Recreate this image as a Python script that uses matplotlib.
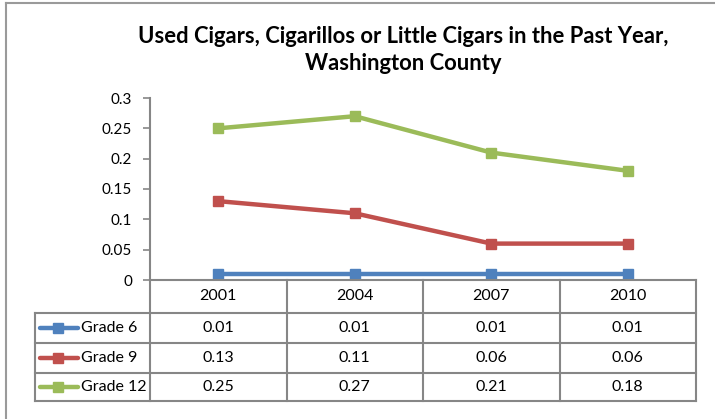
import matplotlib.pyplot as plt
from matplotlib.lines import Line2D

years = ["2001", "2004", "2007", "2010"]
series_names = ["Grade 6", "Grade 9", "Grade 12"]
grade6 = [0.01, 0.01, 0.01, 0.01]
grade9 = [0.13, 0.11, 0.06, 0.06]
grade12 = [0.25, 0.27, 0.21, 0.18]
colors = ["#4F81BD", "#C0504D", "#9BBB59"]
yticks = [0, 0.05, 0.1, 0.15, 0.2, 0.25, 0.3]
ytick_labels = ["0", "0.05", "0.1", "0.15", "0.2", "0.25", "0.3"]

plt.rcParams['font.family'] = ['Lato', 'DejaVu Sans']

W, H = 715, 419
fig = plt.figure(figsize=(W / 100, H / 100), dpi=100)


def fbox(x0, y0, x1, y1):
    # pixel box (top-left origin) -> figure fraction rect
    return [x0 / W, 1 - y1 / H, (x1 - x0) / W, (y1 - y0) / H]


grid_c = "#868686"

# outer chart border (top and left only visible)
fig.add_artist(Line2D([6 / W, 1], [1 - 3 / H, 1 - 3 / H], color="#9a9a9a", lw=1.5))
fig.add_artist(Line2D([6 / W, 6 / W], [0, 1 - 3 / H], color="#9a9a9a", lw=1.5))

fig.text(403 / W, 1 - 50 / H, "Used Cigars, Cigarillos or Little Cigars in the Past Year,\nWashington County",
         ha="center", va="center", fontsize=15.8, fontweight="bold", linespacing=1.4)

# plot area
x0, x1 = 150, 696
ax = fig.add_axes(fbox(x0, 98, x1, 280))
data = [grade6, grade9, grade12]
xs = range(len(years))
for vals, c in zip(data, colors):
    ax.plot(xs, vals, color=c, lw=3.2, marker="s", ms=6.5, solid_capstyle="butt")
ax.set_xlim(-0.5, len(years) - 0.5)
ax.set_ylim(0, 0.3)
ax.set_yticks(yticks)
ax.set_yticklabels(ytick_labels, fontsize=11)
ax.set_xticks([])
for s in ["top", "right"]:
    ax.spines[s].set_visible(False)
ax.spines["left"].set_color(grid_c)
ax.spines["bottom"].set_color(grid_c)
ax.spines["left"].set_linewidth(1.5)
ax.spines["bottom"].set_linewidth(1.5)
ax.tick_params(axis="y", length=5, width=1.2, color=grid_c, pad=8)

# data table underneath
lx = 35
row_y = [280, 313, 343, 373, 401]
tx = fig.add_axes(fbox(lx, 280, x1, 401))
tx.set_xlim(lx, x1)
tx.set_ylim(401, 280)
tx.axis("off")
col_w = (x1 - x0) / len(years)
col_x = [x0 + i * col_w for i in range(len(years) + 1)]
kw = dict(color=grid_c, lw=1.5, clip_on=False)
for cx in col_x:
    tx.plot([cx, cx], [280, 401], **kw)
for ry in row_y[1:]:
    tx.plot([lx, x1], [ry, ry], **kw)
tx.plot([lx, lx], [313, 401], **kw)

fs = 11.5
for i, yr in enumerate(years):
    tx.text(col_x[i] + col_w / 2, (row_y[0] + row_y[1]) / 2, yr, ha="center", va="center", fontsize=fs)

for r, (name, vals, c) in enumerate(zip(series_names, data, colors)):
    yc = (row_y[r + 1] + row_y[r + 2]) / 2
    tx.plot([40, 78], [yc, yc], color=c, lw=3.2, solid_capstyle="round", clip_on=False)
    tx.plot([58], [yc], color=c, marker="s", ms=6.5, clip_on=False)
    tx.text(81, yc, name, ha="left", va="center", fontsize=fs)
    for i, v in enumerate(vals):
        tx.text(col_x[i] + col_w / 2, yc, f"{v:g}", ha="center", va="center", fontsize=fs)

fig.savefig("out.png", dpi=100)
